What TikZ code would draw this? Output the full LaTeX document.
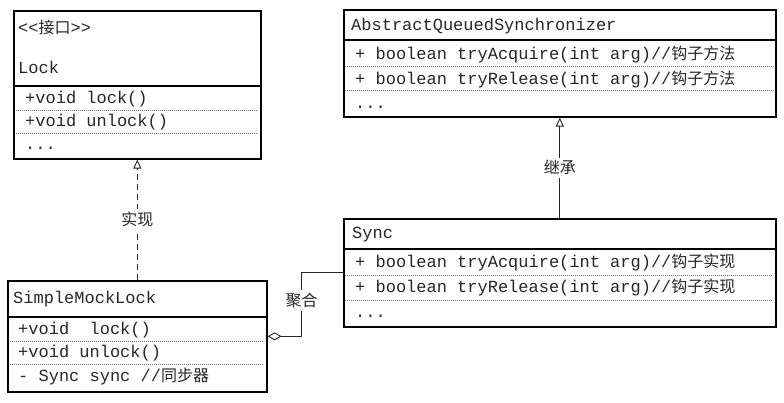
\documentclass[tikz,border=0pt]{standalone}
\usepackage{fontspec}
\setmonofont{Liberation Mono}
\newfontfamily\zhfont{Noto Sans CJK SC}
\usetikzlibrary{arrows.meta}
\newcommand{\zh}[1]{{\zhfont\fontsize{16}{16}\selectfont #1}}
\begin{document}
\begin{tikzpicture}[x=1pt,y=-1pt,
  box/.style={draw, line width=1.6pt, inner sep=0pt, anchor=north west},
  sep/.style={line width=1.6pt},
  dotsep/.style={black!55, line width=0.8pt, dash pattern=on 1pt off 1pt},
  txt/.style={anchor=base west, inner sep=0pt, text=black!85, font=\ttfamily\fontsize{17}{20}\selectfont},
  lbl/.style={fill=white, inner sep=3pt, text=black!85, font=\zhfont\fontsize{16}{16}\selectfont},
  conn/.style={line width=1pt, black!85},
  tri/.style={-{Triangle[open,length=9pt,width=8pt,line width=0.9pt]}}
]
\useasboundingbox (0,0) rectangle (784,402);

% Lock
\node[box, minimum width=247pt, minimum height=148pt] (lock) at (13,10) {};
\draw[sep] (13,86) -- (260,86);
\draw[dotsep] (16,110) -- (258,110);
\draw[dotsep] (16,133) -- (258,133);
\node[txt] (l1) at (18,33) {<<\zh{接口}>>};
\node[txt] (l2) at (18,73) {Lock};
\node[txt] (l3) at (25,103) {+void lock()};
\node[txt] (l4) at (25,126) {+void unlock()};
\node[txt] (l5) at (25,149) {...};

% AQS
\node[box, minimum width=432pt, minimum height=107pt] (aqs) at (343,9) {};
\draw[sep] (343,40) -- (775,40);
\draw[dotsep] (345,66) -- (772,66);
\draw[dotsep] (345,90) -- (772,90);
\node[txt] (a1) at (351,30) {AbstractQueuedSynchronizer};
\node[txt] (a2) at (355,59) {+ boolean tryAcquire(int arg)//\zh{钩子方法}};
\node[txt] (a3) at (355,84) {+ boolean tryRelease(int arg)//\zh{钩子方法}};
\node[txt] (a4) at (355,108) {...};

% Sync
\node[box, minimum width=432pt, minimum height=108pt] (sync) at (343,218) {};
\draw[sep] (343,249) -- (775,249);
\draw[dotsep] (345,275) -- (772,275);
\draw[dotsep] (345,300) -- (772,300);
\node[txt] (s1) at (352,238) {Sync};
\node[txt] (s2) at (355,267) {+ boolean tryAcquire(int arg)//\zh{钩子实现}};
\node[txt] (s3) at (355,292) {+ boolean tryRelease(int arg)//\zh{钩子实现}};
\node[txt] (s4) at (355,317) {...};

% SimpleMockLock
\node[box, minimum width=259pt, minimum height=111pt] (sml) at (7,280) {};
\draw[sep] (7,317) -- (266,317);
\draw[dotsep] (10,341) -- (263,341);
\draw[dotsep] (10,364) -- (263,364);
\node[txt] (m1) at (13,303) {SimpleMockLock};
\node[txt] (m2) at (18,334) {+void\ \ lock()};
\node[txt] (m3) at (18,357) {+void unlock()};
\node[txt] (m4) at (18,381) {- Sync sync //\zh{同步器}};

% connectors
\draw[conn, tri, dash pattern=on 6pt off 4pt] (sml.north) -- node[lbl] {实现} (lock.south);
\draw[conn, tri] (sync.north) -- node[lbl] {继承} (aqs.south);
\draw[conn, {Diamond[open,length=14pt,width=8pt,line width=0.9pt]}-] (sml.east) -- ++(34,0) |- node[lbl, pos=0.28] {聚合} (sync.west);
\end{tikzpicture}
\end{document}
